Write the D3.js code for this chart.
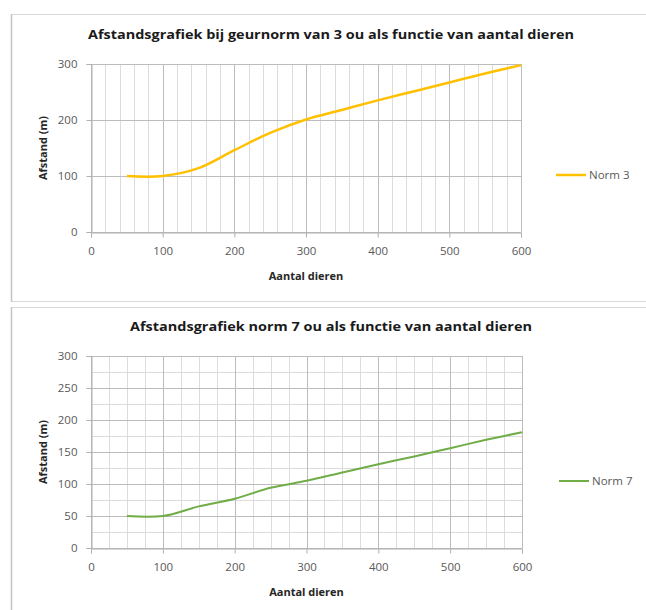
<!DOCTYPE html>
<html>
<head>
<meta charset="utf-8">
<script src="https://cdn.jsdelivr.net/npm/d3@7"></script>
<style>
  body { margin: 0; background: #fff; }
  svg { display: block; font-family: "Open Sans", "Liberation Sans", sans-serif; }
</style>
</head>
<body>
<script>
// data
var dieren = [50, 100, 150, 200, 250, 300, 350, 400, 450, 500, 550, 600];
var norm3 = [100, 100, 114, 146, 177, 201, 218, 235, 251, 267, 283, 298];
var norm7 = [50, 50, 65, 77, 94, 105, 118, 131, 143, 156, 169, 181];
var xTicks = [0, 100, 200, 300, 400, 500, 600];
var yTicks3 = [0, 100, 200, 300];
var yTicks7 = [0, 50, 100, 150, 200, 250, 300];

var svg = d3.select("body").append("svg")
    .attr("width", 646)
    .attr("height", 610);

function drawChart(c) {
    var g = svg.append("g");

    // panel frame
    g.append("rect")
        .attr("x", 11.5).attr("y", c.top + 0.5)
        .attr("width", 700).attr("height", c.panelH)
        .attr("fill", "#fff")
        .attr("stroke", "#d9d9d9");
    g.append("line")
        .attr("x1", 11.5).attr("x2", 11.5)
        .attr("y1", c.top).attr("y2", c.top + c.panelH + 1)
        .attr("stroke", "#c4c4c4").attr("stroke-width", 1.5);

    var x = d3.scaleLinear().domain([0, 600]).range([91, c.xRight]);
    var y = d3.scaleLinear().domain([0, 300]).range([c.yBottom, c.yTop]);

    // minor grid
    g.selectAll(".vminor").data(d3.range(0, 601, c.xMinor)).enter().append("line")
        .attr("x1", function(d) { return Math.round(x(d)) + 0.5; })
        .attr("x2", function(d) { return Math.round(x(d)) + 0.5; })
        .attr("y1", y(300)).attr("y2", y(0))
        .attr("stroke", "#dcdcdc");
    if (c.yMinor) {
        g.selectAll(".hminor").data(d3.range(0, 301, c.yMinor)).enter().append("line")
            .attr("y1", function(d) { return Math.round(y(d)) + 0.5; })
            .attr("y2", function(d) { return Math.round(y(d)) + 0.5; })
            .attr("x1", x(0)).attr("x2", x(600))
            .attr("stroke", "#dcdcdc");
    }
    // major grid
    g.selectAll(".vmajor").data(xTicks).enter().append("line")
        .attr("x1", function(d) { return Math.round(x(d)) + 0.5; })
        .attr("x2", function(d) { return Math.round(x(d)) + 0.5; })
        .attr("y1", y(300)).attr("y2", y(0))
        .attr("stroke", "#bcbcbc");
    g.selectAll(".hmajor").data(c.yTicks).enter().append("line")
        .attr("y1", function(d) { return Math.round(y(d)) + 0.5; })
        .attr("y2", function(d) { return Math.round(y(d)) + 0.5; })
        .attr("x1", x(0)).attr("x2", x(600))
        .attr("stroke", "#bcbcbc");

    // axes
    var xAxis = g.append("g")
        .attr("transform", "translate(0," + (Math.round(y(0)) + 0.5) + ")")
        .call(d3.axisBottom(x).tickValues(xTicks).tickSize(5).tickPadding(9));
    var yAxis = g.append("g")
        .attr("transform", "translate(" + (Math.round(x(0)) + 0.5) + ",0)")
        .call(d3.axisLeft(y).tickValues(c.yTicks).tickSize(5).tickPadding(9));
    [xAxis, yAxis].forEach(function(a) {
        a.select(".domain").attr("stroke", "#b0b0b0");
        a.selectAll(".tick line").attr("stroke", "#b0b0b0");
        a.selectAll("text")
            .attr("fill", "#595959")
            .style("font-size", "11.5px")
            .style("font-family", "'Liberation Sans Narrow', 'Open Sans', sans-serif");
    });

    // line
    var line = d3.line()
        .x(function(d, i) { return x(dieren[i]); })
        .y(function(d) { return y(d); })
        .curve(d3.curveCatmullRom.alpha(0.5));
    g.append("path")
        .datum(c.values)
        .attr("d", line)
        .attr("fill", "none")
        .attr("stroke", c.color)
        .attr("stroke-width", c.lineW);

    // title
    g.append("text")
        .attr("x", c.titleX).attr("y", c.top + c.titleDy)
        .attr("text-anchor", "middle")
        .attr("textLength", c.titleW)
        .attr("lengthAdjust", "spacingAndGlyphs")
        .style("font-size", "12.5px").style("font-weight", "bold")
        .attr("fill", "#1a1a1a")
        .text(c.title);

    // axis titles
    g.append("text")
        .attr("x", x(300)).attr("y", y(0) + 48)
        .attr("text-anchor", "middle")
        .style("font-size", "11px").style("font-weight", "bold")
        .attr("fill", "#262626")
        .text("Aantal dieren");
    g.append("text")
        .attr("transform", "translate(47," + ((y(0) + y(300)) / 2) + ") rotate(-90)")
        .attr("text-anchor", "middle")
        .style("font-size", "11px").style("font-weight", "bold")
        .attr("fill", "#262626")
        .text("Afstand (m)");

    // legend
    var ly = c.legendY;
    g.append("line")
        .attr("x1", c.legendX).attr("x2", c.legendX + 30)
        .attr("y1", ly).attr("y2", ly)
        .attr("stroke", c.color).attr("stroke-width", c.lineW);
    g.append("text")
        .attr("x", c.legendX + 33).attr("y", ly + 4)
        .style("font-size", "11.5px")
        .style("font-family", "'Liberation Sans Narrow', 'Open Sans', sans-serif")
        .attr("fill", "#595959")
        .text(c.name);
}

drawChart({
    top: 14, panelH: 287,
    xRight: 521, yTop: 64, yBottom: 232,
    xMinor: 20, yMinor: 0, yTicks: yTicks3,
    values: norm3, color: "#ffc000", lineW: 2.5,
    title: "Afstandsgrafiek bij geurnorm van 3 ou als functie van aantal dieren",
    titleX: 331, titleDy: 25, titleW: 486,
    name: "Norm 3", legendX: 556, legendY: 175
});

drawChart({
    top: 307, panelH: 320,
    xRight: 522, yTop: 356, yBottom: 548,
    xMinor: 25, yMinor: 25, yTicks: yTicks7,
    values: norm7, color: "#70ad47", lineW: 2,
    title: "Afstandsgrafiek norm 7 ou als functie van aantal dieren",
    titleX: 331, titleDy: 24, titleW: 402,
    name: "Norm 7", legendX: 559, legendY: 481
});
</script>
</body>
</html>
